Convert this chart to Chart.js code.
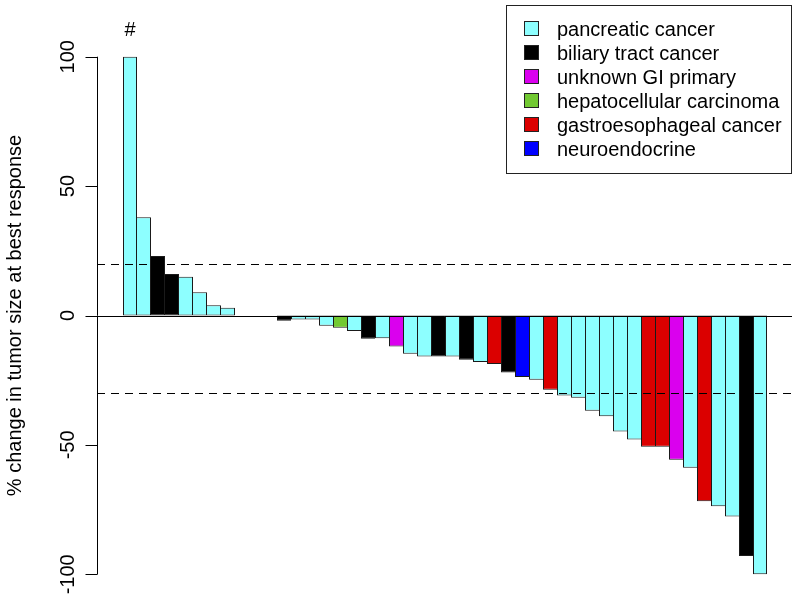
<!DOCTYPE html>
<html>
<head>
<meta charset="utf-8">
<script src="https://cdn.jsdelivr.net/npm/chart.js@4/dist/chart.umd.min.js"></script>
<style>
html,body{margin:0;padding:0;background:#fff;}
#wrap{width:800px;height:599px;}
</style>
</head>
<body>
<div id="wrap"><canvas id="c" width="800" height="599"></canvas></div>
<script>
// ---- data ----
const categories = ["pancreatic cancer","biliary tract cancer","unknown GI primary","hepatocellular carcinoma","gastroesophageal cancer","neuroendocrine"];
const categoryColors = ["#8DFFFF","#000000","#DA00EE","#72C932","#DB0000","#0000FF"];
const values = [100,38,23,16,15,9,4,3,0,0,0,-2,-1.5,-1.5,-4,-4.7,-6,-9,-8.8,-12,-14.8,-15.8,-15.8,-15.8,-17.1,-18,-18.7,-22,-23.8,-24.8,-28.7,-30.9,-31.8,-36.8,-38.9,-44.8,-47.9,-50.7,-50.7,-55.7,-58.8,-71.8,-73.7,-77.7,-92.9,-100];
const types = [0,0,1,1,0,0,0,0,0,0,0,1,0,0,0,3,0,1,0,2,0,0,1,0,1,0,4,1,5,0,4,0,0,0,0,0,0,4,4,2,0,4,0,0,1,0];
const yTicks = [-100,-50,0,50,100];
const refLines = [20,-30];
const yTitle = "% change in tumor size at best response";
const annot = {index:0, text:"#"};

const points = values.map((v,i)=>({x:i+0.5,y:v}));
const FONT = '"Liberation Sans", Arial, Helvetica, sans-serif';

const overlay = {
  id:'overlay',
  afterDatasetsDraw(chart){
    const ctx = chart.ctx, ys = chart.scales.y, xs = chart.scales.x, a = chart.chartArea;
    ctx.save();
    ctx.strokeStyle = '#000'; ctx.lineWidth = 1;
    const y0 = Math.round(ys.getPixelForValue(0))+0.5;
    ctx.beginPath(); ctx.moveTo(a.left,y0); ctx.lineTo(a.right,y0); ctx.stroke();
    ctx.setLineDash([8,6]);
    refLines.forEach(r=>{
      const yy = Math.round(ys.getPixelForValue(r))+0.5;
      ctx.beginPath(); ctx.moveTo(a.left,yy); ctx.lineTo(a.right,yy); ctx.stroke();
    });
    ctx.setLineDash([]);
    const ax = a.left+0.5;
    ctx.beginPath();
    ctx.moveTo(ax, ys.getPixelForValue(yTicks[yTicks.length-1]));
    ctx.lineTo(ax, ys.getPixelForValue(yTicks[0]));
    ctx.stroke();
    ctx.fillStyle = '#000';
    ctx.font = '20px '+FONT;
    yTicks.forEach(t=>{
      const yy = Math.round(ys.getPixelForValue(t))+0.5;
      ctx.beginPath(); ctx.moveTo(ax-12,yy); ctx.lineTo(ax,yy); ctx.stroke();
      ctx.save();
      ctx.translate(74, ys.getPixelForValue(t));
      ctx.rotate(-Math.PI/2);
      ctx.textAlign='center'; ctx.textBaseline='alphabetic';
      ctx.fillText(String(t),0,0);
      ctx.restore();
    });
    ctx.save();
    ctx.translate(21,(a.top+a.bottom)/2);
    ctx.rotate(-Math.PI/2);
    ctx.textAlign='center'; ctx.textBaseline='alphabetic';
    ctx.fillText(yTitle,0,0);
    ctx.restore();
    ctx.textAlign='center'; ctx.textBaseline='middle';
    ctx.fillText(annot.text, xs.getPixelForValue(annot.index+0.5), 30);
    const lx=506.5, ly=5.5, lw=285, lh=168;
    ctx.fillStyle='#fff'; ctx.fillRect(lx,ly,lw,lh);
    ctx.strokeStyle='#222'; ctx.strokeRect(lx,ly,lw,lh);
    categories.forEach((c,i)=>{
      const cy = 29 + i*24;
      ctx.fillStyle = categoryColors[i];
      ctx.fillRect(524.5, cy-7.5, 14, 14);
      ctx.strokeStyle='#222';
      ctx.strokeRect(524.5, cy-7.5, 14, 14);
      ctx.fillStyle='#000';
      ctx.textAlign='left'; ctx.textBaseline='middle';
      ctx.fillText(c, 557, cy+1);
    });
    ctx.restore();
  }
};

new Chart(document.getElementById('c'),{
  type:'bar',
  data:{datasets:[{
    data:points,
    backgroundColor: types.map(t=>categoryColors[t]),
    borderColor:'#1a1a1a',
    borderSkipped:false,
    borderWidth: (c)=>{
      const i=c.dataIndex, v=values[i];
      if(v===0) return 0;
      if(v>0) return {top:1,bottom:1,left:i===0?1:0,right:1};
      return {top:1,bottom:1,left:1,right:i===values.length-1?1:0};
    },
    barPercentage:1, categoryPercentage:1, inflateAmount:0
  }]},
  options:{
    responsive:false, devicePixelRatio:1, animation:false,
    layout:{padding:{top:36,right:8,bottom:4,left:0}},
    plugins:{legend:{display:false},tooltip:{enabled:false}},
    scales:{
      x:{type:'linear',display:false,min:-26/14,max:669/14,offset:false},
      y:{min:-108,max:108,
         grid:{display:false},border:{display:false},
         ticks:{display:false},
         afterFit(s){s.width=97;}}
    }
  },
  plugins:[overlay]
});
</script>
</body>
</html>
